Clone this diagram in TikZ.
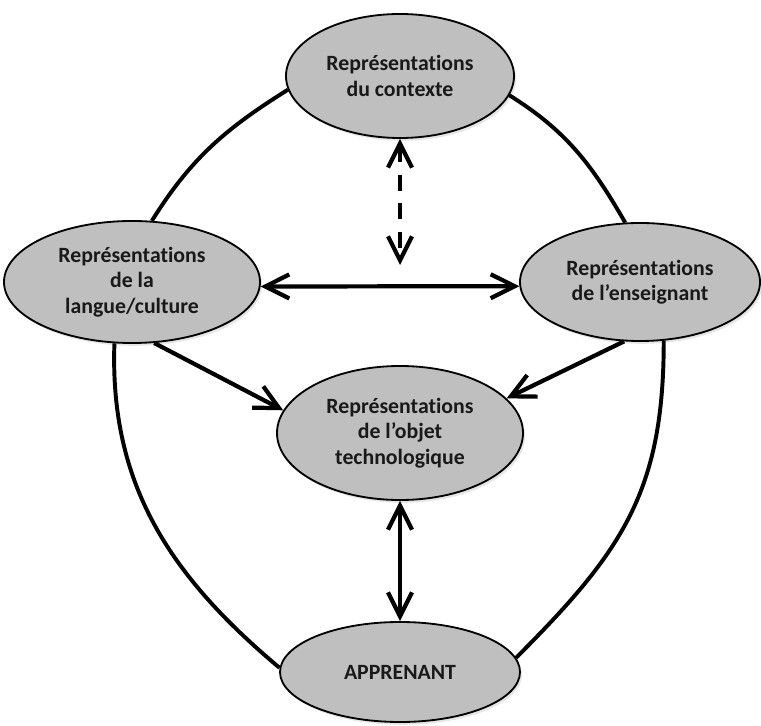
\documentclass[tikz,border=0pt]{standalone}
\usepackage{fontspec}
\setmainfont{Carlito}[Ligatures=NoCommon]
\usetikzlibrary{shapes.geometric,arrows.meta,shadows}

\begin{document}
\begin{tikzpicture}[
		repre/.style={ellipse, draw=black, line width=1.3pt, fill=black!25, inner sep=0pt, align=center,
			font=\bfseries\fontsize{15.5}{18}\selectfont, text=black!90,
			drop shadow={shadow xshift=1.5pt, shadow yshift=-2pt, opacity=0.2}},
		arco/.style={line width=2.8pt},
		flecha/.style={line width=3pt, >={Straight Barb[length=6mm,width=6mm]}},
	]
	\useasboundingbox (0,0) rectangle (19.025,18.125);
		% Elipses
			\node[repre, minimum width=5.7cm, minimum height=3.1cm] (ctx) at (10,16.225) {Représentations\\du contexte};
			\node[repre, minimum width=6.4cm, minimum height=3.05cm] (lang) at (3.3,11.075) {Représentations\\de la\\langue/culture};
			\node[repre, minimum width=6cm, minimum height=2.95cm] (teach) at (16,11.075) {Représentations\\de l’enseignant};
			\node[repre, minimum width=6.15cm, minimum height=3.35cm] (obj) at (10,7.3) {Représentations\\de l’objet\\technologique};
			\node[repre, minimum width=6cm, minimum height=2.5cm] (learner) at (10,1.325) {APPRENANT};
			\coordinate (mid) at (10,11.5);
		% Curvas exteriores
			\draw[arco] (ctx.187) to[out=212, in=58] (lang.72);
			\draw[arco] (ctx.-10) to[out=-32, in=120] (teach.104);
			\draw[arco] (lang.254) to[out=-92, in=140] (learner.178);
			\draw[arco] (teach.292) to[out=-90, in=45, looseness=1.1] (learner.7);
		% Flechas
			\draw[flecha, <->, dash pattern=on 0.4cm off 0.32cm] (ctx.south) -- (mid);
			\draw[flecha, <->] (lang.-2.7) -- (teach.182.9);
			\draw[flecha, ->] (lang.290) -- (obj.169);
			\draw[flecha, ->] (teach.255) -- (obj.18);
			\draw[flecha, <->] (obj.south) -- (learner.north);
\end{tikzpicture}
\end{document}
